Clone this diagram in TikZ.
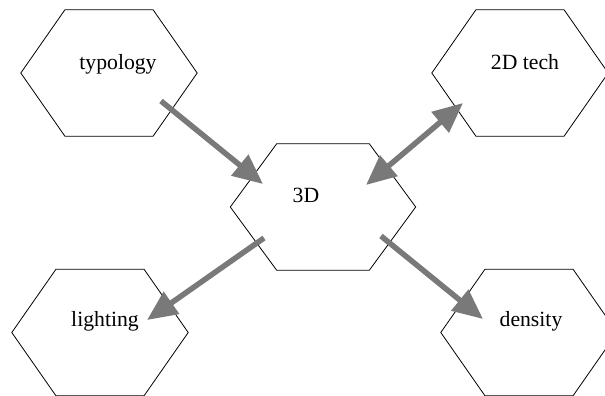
\documentclass[tikz,border=0pt]{standalone}
\usepackage{fontspec}
\setmainfont{Liberation Serif}
\usetikzlibrary{arrows.meta}

\tikzset{
  cell/.style={minimum width=176pt, minimum height=126pt, inner sep=0pt},
  widecell/.style={cell, minimum width=185pt},
  hexline/.style={draw=black, line width=0.8pt, line join=miter},
  lbl/.style={anchor=base, inner sep=0pt, font=\fontsize{21.7}{26}\selectfont},
  flow/.style={draw=gray!95!black, line width=5.5pt,
    -{Triangle[length=30pt,width=26pt]}},
  twoway/.style={flow, {Triangle[length=30pt,width=26pt]}-{Triangle[length=30pt,width=26pt]}}
}

% hexagon outline traced through a cell node's anchors
\newcommand{\hexoutline}[1]{%
  \draw[hexline] (#1.west)
    -- ($(#1.north west)!0.25!(#1.north east)$)
    -- ($(#1.north west)!0.75!(#1.north east)$)
    -- (#1.east)
    -- ($(#1.south west)!0.75!(#1.south east)$)
    -- ($(#1.south west)!0.25!(#1.south east)$)
    -- cycle;}

\usetikzlibrary{calc}

\begin{document}
\begin{tikzpicture}[x=1pt, y=-1pt]
  \useasboundingbox (0,0) rectangle (605,396);
  \fill[white] (0,0) rectangle (605,396);

  % hexagonal cells
  \node[cell]     (typology) at (109,73)    {};
  \node[widecell] (threed)   at (323,207)   {};
  \node[cell]     (twod)     at (520,73)    {};
  \node[cell]     (lighting) at (100,332.5) {};
  \node[cell]     (density)  at (529,332.5) {};

  \foreach \n in {typology,threed,twod,lighting,density} {\hexoutline{\n}}

  % labels
  \node[lbl] (typology-txt) at (118,70)  {typology};
  \node[lbl] (threed-txt)   at (306,202.5) {3D};
  \node[lbl] (twod-txt)     at (525,69.5)  {2D tech};
  \node[lbl] (lighting-txt) at (105,326.5) {lighting};
  \node[lbl] (density-txt)  at (531,326.5) {density};

  % arrow ends inside the cells
  \coordinate (typology-out) at (161,101);
  \coordinate (threed-in-a)  at (263,184);
  \coordinate (threed-in-b)  at (366,185);
  \coordinate (twod-in)      at (463,103);
  \coordinate (threed-out-a) at (264,238);
  \coordinate (lighting-in)  at (147,320);
  \coordinate (threed-out-b) at (381,236);
  \coordinate (density-in)   at (483,319);

  % connectors
  \draw[flow]   (typology-out) -- (threed-in-a);
  \draw[twoway] (threed-in-b) -- (twod-in);
  \draw[flow]   (threed-out-a) -- (lighting-in);
  \draw[flow]   (threed-out-b) -- (density-in);
\end{tikzpicture}
\end{document}
